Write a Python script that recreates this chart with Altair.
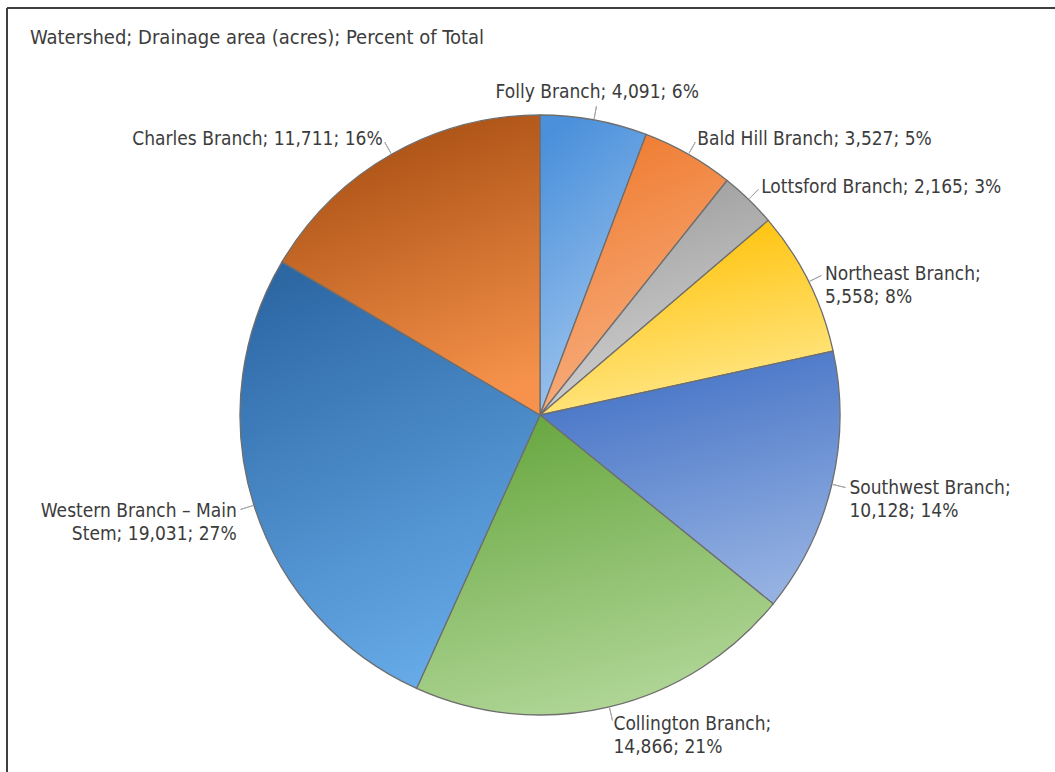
import math
import altair as alt
import pandas as pd

# ---- data ----
watersheds = [
    "Folly Branch", "Bald Hill Branch", "Lottsford Branch", "Northeast Branch",
    "Southwest Branch", "Collington Branch", "Western Branch – Main Stem", "Charles Branch",
]
acres = [4091, 3527, 2165, 5558, 10128, 14866, 19031, 11711]
percent = [6, 5, 3, 8, 14, 21, 27, 16]
labels = [
    "Folly Branch; 4,091; 6%",
    "Bald Hill Branch; 3,527; 5%",
    "Lottsford Branch; 2,165; 3%",
    "Northeast Branch;\n5,558; 8%",
    "Southwest Branch;\n10,128; 14%",
    "Collington Branch;\n14,866; 21%",
    "Western Branch – Main\nStem; 19,031; 27%",
    "Charles Branch; 11,711; 16%",
]
# gradient colours per slice (top -> bottom)
colors_top = ["#4a90db", "#ef7a2e", "#9b9b9b", "#ffbf00",
              "#4170c4", "#68a740", "#2d68a5", "#a44c10"]
colors_bottom = ["#a6c9ef", "#f8b387", "#d6d6d6", "#ffe98e",
                 "#95b1e2", "#b2d799", "#67abe9", "#f6924b"]

df = pd.DataFrame({
    "order": list(range(len(watersheds))),
    "name": watersheds,
    "acres": acres,
    "pct": percent,
    "label": labels,
})
TOTAL = sum(acres)

FONT = "Liberation Sans Narrow, Arial Narrow, DejaVu Sans Condensed, Liberation Sans"
CX, CY, R = 540, 415, 300

theta_scale = alt.Scale(domain=[0, TOTAL], range=[0, 2 * math.pi])

base = (
    alt.Chart(df)
    .transform_window(end="sum(acres)", sort=[alt.SortField("order")], frame=[None, 0])
    .transform_calculate(
        start="datum.end - datum.acres",
        mid="datum.end - datum.acres / 2",
        ang="(datum.end - datum.acres / 2) / %d * 360" % TOTAL,
    )
)

pos = dict(x=alt.value(CX), y=alt.value(CY))

slice_layers = []
for name, c_top, c_bot in zip(watersheds, colors_top, colors_bottom):
    slice_layers.append(
        base.transform_filter(alt.datum.name == name).mark_arc(
            radius=R,
            fill=alt.Gradient(
                gradient="linear",
                stops=[
                    alt.GradientStop(color=c_top, offset=0),
                    alt.GradientStop(color=c_bot, offset=1),
                ],
                x1=0.3, y1=0, x2=0.6, y2=1,
            ),
            stroke="#6e6e6e",
            strokeWidth=1.3,
        ).encode(
            theta=alt.Theta("start:Q", scale=theta_scale, stack=None),
            theta2="end:Q",
            tooltip=["name:N", "acres:Q", "pct:Q"],
            **pos,
        )
    )

leaders = base.mark_arc(
    radius=R + 14, radius2=R + 1, filled=False, stroke="#a6a6a6", strokeWidth=1,
).encode(
    theta=alt.Theta("mid:Q", scale=theta_scale, stack=None),
    theta2="mid:Q",
    **pos,
)

def text_layer(cond, align, baseline):
    return base.transform_filter(cond).mark_text(
        radius=R + 18, align=align, baseline=baseline, font=FONT, fontSize=19,
        color="#3c3c3c", lineBreak="\n", lineHeight=23,
    ).encode(
        theta=alt.Theta("mid:Q", scale=theta_scale, stack=None),
        text="label:N",
        **pos,
    )

t_center = text_layer("datum.ang < 15 || datum.ang > 345", "center", "bottom")
t_left = text_layer("datum.ang >= 15 && datum.ang <= 180", "left", "middle")
t_right = text_layer("datum.ang > 180 && datum.ang <= 345", "right", "middle")

border_left = alt.Chart(df).mark_rule(color="#3f3f3f", strokeWidth=2).encode(
    x=alt.value(7), y=alt.value(8), y2=alt.value(772)
)
border_top = alt.Chart(df).mark_rule(color="#3f3f3f", strokeWidth=2).encode(
    x=alt.value(7), x2=alt.value(1055), y=alt.value(8)
)

chart = (
    alt.layer(*slice_layers, leaders, t_center, t_left, t_right, border_left, border_top)
    .properties(
        width=1055,
        height=772,
        padding=0,
        autosize=alt.AutoSizeParams(type="none"),
        background="white",
        title=alt.TitleParams(
            text="Watershed; Drainage area (acres); Percent of Total",
            anchor="start", frame="group", orient="top", offset=-48, dx=30,
            font=FONT, fontSize=20, fontWeight="normal", color="#3c3c3c",
        ),
    )
    .configure_view(stroke=None)
)

chart.save("out.html", embed_options={"renderer": "svg", "actions": False})
